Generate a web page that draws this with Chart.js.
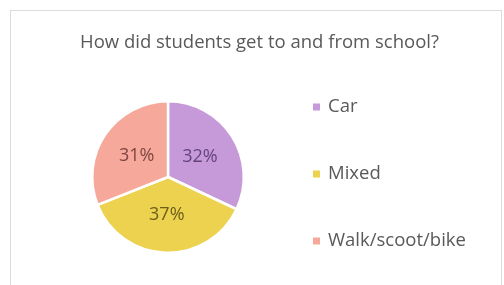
<!DOCTYPE html>
<html>
<head>
<meta charset="utf-8">
<script src="https://cdn.jsdelivr.net/npm/chart.js@4/dist/chart.umd.min.js"></script>
<style>
  html, body { margin: 0; padding: 0; background: #ffffff; overflow: hidden; }
  #box { position: absolute; left: 10px; top: 10px; width: 490px; height: 290px; border: 1px solid #dcdcdc; background: #fff; }
  #c { display: block; }
</style>
</head>
<body>
<div id="box"><canvas id="c" width="490" height="280"></canvas></div>
<script>
const categories = ["Car", "Mixed", "Walk/scoot/bike"];
const shares = [32, 37, 31];
const sliceColors = ["#c69ad9", "#ecd24f", "#f6a99b"];
const labelColors = ["#63457a", "#6e5e1c", "#7d4640"];
const titleText = "How did students get to and from school?";

const FONT = '"Open Sans", sans-serif';

const decor = {
  id: 'decor',
  afterDraw(chart) {
    const ctx = chart.ctx;
    const area = chart.chartArea;
    const meta = chart.getDatasetMeta(0);
    ctx.save();
    // percentage labels
    ctx.font = '18px ' + FONT;
    ctx.textAlign = 'center';
    ctx.textBaseline = 'middle';
    meta.data.forEach((arc, i) => {
      const p = arc.tooltipPosition();
      ctx.fillStyle = labelColors[i];
      ctx.fillText(shares[i] + '%', p.x, p.y);
    });
    // title
    ctx.fillStyle = '#595959';
    ctx.font = '18.5px ' + FONT;
    ctx.fillText(titleText, chart.width / 2 + 3.5, 32);
    // legend
    ctx.textAlign = 'left';
    ctx.font = '18.5px ' + FONT;
    const cy = (area.top + area.bottom) / 2 - 3;
    const lx = area.right + 68;
    chart.data.labels.forEach((lab, i) => {
      const y = cy + (i - 1) * 67;
      ctx.fillStyle = sliceColors[i];
      ctx.fillRect(lx, y - 3.5, 7, 7);
      ctx.fillStyle = '#595959';
      ctx.fillText(lab, lx + 15, y);
    });
    ctx.restore();
  }
};

new Chart(document.getElementById('c'), {
  type: 'pie',
  data: {
    labels: categories,
    datasets: [{
      data: shares,
      backgroundColor: sliceColors,
      borderColor: '#ffffff',
      borderWidth: 2.5
    }]
  },
  options: {
    responsive: false,
    animation: false,
    layout: { padding: { left: 80, right: 256, top: 89, bottom: 37 } },
    plugins: {
      title: { display: false },
      legend: { display: false },
      tooltip: { enabled: false }
    }
  },
  plugins: [decor]
});
</script>
</body>
</html>
